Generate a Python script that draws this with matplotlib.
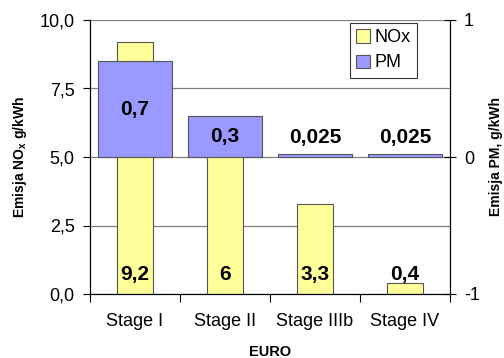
import numpy as np
import matplotlib
matplotlib.use("Agg")
import matplotlib.pyplot as plt
from matplotlib.ticker import FixedLocator, FuncFormatter

plt.rcParams["font.family"] = ["Liberation Sans", "DejaVu Sans"]
plt.rcParams["mathtext.fontset"] = "custom"
plt.rcParams["mathtext.rm"] = "Liberation Sans:bold"
plt.rcParams["mathtext.default"] = "rm"
plt.rcParams["axes.unicode_minus"] = False

stages = ["Stage I", "Stage II", "Stage IIIb", "Stage IV"]
nox = [9.2, 6, 3.3, 0.4]
pm = [0.7, 0.3, 0.025, 0.025]
nox_labels = ["9,2", "6", "3,3", "0,4"]
pm_labels = ["0,7", "0,3", "0,025", "0,025"]

yellow = "#FFFF99"
blue = "#9999FF"
edge = "#555555"

fig = plt.figure(figsize=(5.04, 3.58), dpi=100)
ax = fig.add_axes([90 / 504, 64 / 358, 360 / 504, 274 / 358])
ax2 = ax.twinx()

x = np.arange(len(stages))

# NOx on the left axis, behind
ax.set_axisbelow(True)
ax.yaxis.grid(True, color="#808080", lw=0.9)
bn = ax.bar(x, nox, width=0.4, color=yellow, edgecolor=edge, lw=0.8, label="NOx", zorder=2)
for xi, lab in zip(x, nox_labels):
    ax.text(xi, 0.72, lab, ha="center", va="center", fontsize=15, fontweight="bold", zorder=3)

ax.set_ylim(0, 10)
ax.set_xlim(-0.5, len(stages) - 0.5)
ax.set_yticks([0, 2.5, 5, 7.5, 10])
ax.yaxis.set_major_formatter(FuncFormatter(lambda v, _: f"{v:.1f}".replace(".", ",")))
ax.xaxis.set_major_locator(FixedLocator(np.arange(-0.5, len(stages), 1.0)))
ax.xaxis.set_major_formatter(FuncFormatter(lambda v, _: ""))
ax.xaxis.set_minor_locator(FixedLocator(x))
ax.set_xticklabels(stages, minor=True)
ax.tick_params(axis="x", which="minor", length=0, labelsize=13, pad=14)
ax.tick_params(axis="x", which="major", length=6, direction="out", width=0.8)
ax.tick_params(axis="y", length=5, direction="out", width=0.8, labelsize=13, pad=6)
ax.spines["top"].set_visible(False)
ax.set_ylabel("Emisja NO$_{x}$ g/kWh", fontsize=10, fontweight="bold", va="center")
ax.yaxis.set_label_coords(-0.194, 0.5)
ax.set_xlabel("EURO", fontsize=10.5, fontweight="bold", va="center")
ax.xaxis.set_label_coords(0.5, -0.212)

# PM on the right axis, drawn on top
bp = ax2.bar(x, pm, width=0.83, color=blue, edgecolor=edge, lw=0.8, label="PM")
for xi, v, lab in zip(x, pm, pm_labels):
    ax2.text(xi, max(v / 2, 0.14), lab, ha="center", va="center", fontsize=15, fontweight="bold")
ax2.set_ylim(-1, 1)
ax2.set_yticks([-1, 0, 1])
ax2.tick_params(axis="y", length=8, direction="inout", width=0.8, labelsize=13, pad=6)
ax2.spines["top"].set_visible(False)
ax2.set_ylabel("Emisja PM, g/kWh", fontsize=10, fontweight="bold", va="center")
ax2.yaxis.set_label_coords(1.128, 0.5)

leg = ax2.legend([bn, bp], ["NOx", "PM"], loc="upper right", bbox_to_anchor=(0.908, 0.989),
                 fontsize=13, frameon=True, fancybox=False, handlelength=0.75, handleheight=0.75,
                 handletextpad=0.25, borderpad=0.35, labelspacing=0.45, borderaxespad=0)
leg.get_frame().set_edgecolor("black")
leg.get_frame().set_linewidth(0.8)

fig.savefig("out.png", dpi=100)
